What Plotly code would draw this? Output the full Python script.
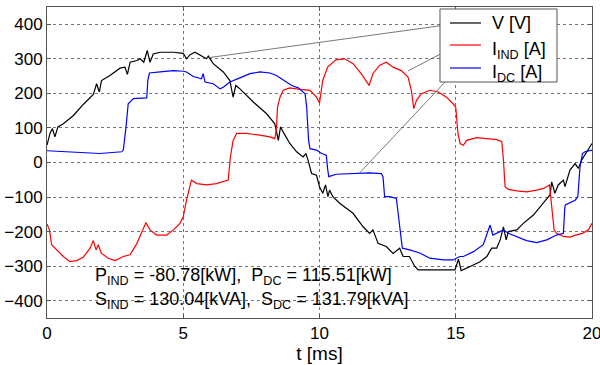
import plotly.graph_objects as go

# ---------------- data ----------------
t_v = [0.0, 0.11, 0.2, 0.29, 0.4, 0.6, 0.97, 1.33, 1.7, 1.82, 1.92, 2.0, 2.31, 2.68, 2.86, 2.95,
       3.05, 3.3, 3.42, 3.55, 3.68, 3.78, 3.9, 4.15, 4.64, 5.0, 5.12, 5.25, 5.43, 5.73, 5.85, 5.92,
       6.1, 6.47, 6.71, 6.83, 6.93, 7.08, 7.57, 8.06, 8.36, 8.49, 8.57, 8.67, 8.91, 9.16, 9.4, 9.5,
       9.58, 9.71, 9.89, 10.0, 10.12, 10.22, 10.31, 10.37, 10.49, 10.74, 11.23, 11.6, 11.84, 11.96,
       12.15, 12.45, 12.7, 12.94, 13.07, 13.3, 13.5, 13.62, 13.93, 14.42, 14.97, 15.1, 15.2, 15.53,
       15.89, 16.14, 16.32, 16.5, 16.63, 16.75, 16.85, 16.93, 17.24, 17.48, 17.85, 18.2, 18.46,
       18.52, 18.64, 18.76, 18.95, 19.01, 19.19, 19.38, 19.5, 19.62, 19.74, 19.87, 20.0]
v_vals = [50, 84, 98, 74, 103, 112, 136, 168, 197, 228, 204, 237, 252, 273, 276, 255,
          290, 295, 300, 290, 324, 290, 314, 319, 319, 316, 300, 312, 319, 305, 300, 308,
          286, 262, 237, 189, 223, 213, 175, 141, 112, 64, 103, 88, 55, 31, 16, 26,
          7, -32, -37, -70, -89, -65, -99, -80, -99, -118, -147, -186, -205, -195,
          -234, -243, -263, -248, -272, -272, -301, -311, -311, -313, -311, -280, -313, -301,
          -287, -272, -248, -248, -224, -186, -224, -200, -195, -176, -152, -118, -94,
          -56, -89, -65, -51, -70, -22, -3, -17, 7, 21, 36, 55]

t_ind = [0.0, 0.09, 0.17, 0.35, 0.6, 0.84, 1.09, 1.33, 1.58, 1.7, 1.8, 1.88, 2.0, 2.25, 2.5, 2.8,
         3.05, 3.3, 3.47, 3.63, 3.78, 4.02, 4.39, 4.64, 4.88, 5.0, 5.12, 5.24, 5.3, 5.5, 5.86, 6.22,
         6.65, 6.73, 6.83, 6.96, 7.32, 7.8, 8.18, 8.36, 8.42, 8.46, 8.55, 8.67, 8.91, 9.16, 9.4,
         9.65, 9.89, 10.0, 10.12, 10.3, 10.6, 10.92, 11.23, 11.53, 11.82, 11.96, 12.2, 12.45, 12.7,
         13.0, 13.25, 13.37, 13.46, 13.56, 13.74, 14.05, 14.36, 14.66, 14.9, 15.0, 15.08, 15.16,
         15.28, 15.4, 15.77, 16.14, 16.5, 16.69, 16.75, 16.81, 16.93, 17.24, 17.6, 17.97, 18.22,
         18.44, 18.52, 18.61, 18.7, 18.95, 19.2, 19.4, 19.65, 19.87, 20.0]
i_ind = [-178, -195, -238, -253, -272, -287, -284, -274, -248, -226, -253, -238, -263, -277, -284, -272,
         -267, -234, -205, -174, -195, -210, -210, -195, -176, -157, -109, -75, -51, -61, -65, -61,
         -51, 16, 64, 84, 84, 79, 74, 69, 98, 160, 189, 209, 216, 213, 210,
         209, 189, 172, 238, 276, 297, 300, 286, 257, 223, 257, 281, 290, 276,
         266, 247, 209, 156, 180, 199, 209, 204, 189, 170, 160, 84, 55,
         50, 64, 72, 69, 66, 60, 7, -70, -78, -82, -85, -80, -75,
         -65, -128, -195, -205, -214, -216, -210, -205, -195, -176]

t_dc = [0.0, 0.97, 1.94, 2.74, 2.8, 2.9, 2.98, 3.17, 3.66, 3.7, 3.76, 4.15, 4.64, 5.0, 5.12, 5.37,
        5.67, 5.73, 5.8, 6.1, 6.35, 6.47, 6.71, 7.08, 7.45, 7.81, 8.18, 8.42, 8.67, 8.98, 9.22, 9.47,
        9.53, 9.6, 9.65, 9.89, 10.08, 10.25, 10.3, 10.34, 10.61, 11.23, 11.84, 12.27, 12.33, 12.39,
        12.58, 12.82, 12.92, 13.04, 13.31, 13.68, 14.05, 14.54, 14.9, 15.15, 15.28, 15.65, 16.01,
        16.16, 16.26, 16.36, 16.5, 16.75, 16.93, 17.24, 17.6, 17.97, 18.34, 18.7, 18.95, 19.0, 19.02,
        19.38, 19.48, 19.56, 19.65, 19.74, 20.0]
i_dc = [34, 31, 26, 31, 36, 103, 170, 185, 187, 238, 259, 262, 266, 264, 262, 249,
        242, 257, 233, 228, 213, 218, 233, 245, 257, 262, 259, 252, 239, 223, 216, 199,
        160, 64, 40, 36, 26, 21, -20, -41, -34, -32, -30, -32, -41, -99,
        -99, -104, -166, -248, -253, -262, -277, -282, -282, -272, -272, -258, -238,
        -205, -181, -210, -205, -195, -205, -214, -226, -232, -224, -210, -205, -133, -123,
        -109, -99, -13, 26, 31, 36]

series_names = ["V [V]", "I<sub>IND</sub> [A]", "I<sub>DC</sub> [A]"]
series_colors = ["#000000", "#ff0000", "#0000ff"]

# leader lines from legend samples to curves (data coordinates)
leader_start_t = [14.83, 15.0, 15.05]
leader_start_y = [400, 337, 270]
leader_end_t = [5.8, 13.25, 11.45]
leader_end_y = [302, 265, -32]

stats_lines = ["P<sub>IND</sub> = -80.78[kW],  P<sub>DC</sub> = 115.51[kW]",
               "S<sub>IND</sub> = 130.04[kVA],  S<sub>DC</sub> = 131.79[kVA]"]

x_ticks = [0, 5, 10, 15, 20]
y_ticks = [-400, -300, -200, -100, 0, 100, 200, 300, 400]

# ---------------- figure ----------------
FONT = "Liberation Sans, Arial, sans-serif"
fig = go.Figure()
for (tx, yv), name, col in zip([(t_v, v_vals), (t_ind, i_ind), (t_dc, i_dc)], series_names, series_colors):
    fig.add_trace(go.Scatter(x=tx, y=yv, mode="lines", name=name, showlegend=False,
                             line=dict(color=col, width=1.2)))

for xs, ys, xe, ye in zip(leader_start_t, leader_start_y, leader_end_t, leader_end_y):
    fig.add_shape(type="line", xref="x", yref="y", x0=xs, y0=ys, x1=xe, y1=ye,
                  line=dict(color="#555555", width=0.8))

# legend box drawn as in the original (MATLAB style)
LG_X0, LG_X1, LG_Y0, LG_Y1 = 0.7211, 0.9358, 0.7588, 0.9936
LG_LINE_X0, LG_LINE_X1, LG_TEXT_X = 0.7394, 0.7963, 0.8128
LG_ROWS = [0.9486, 0.8778, 0.8039]
fig.add_shape(type="rect", xref="paper", yref="paper", x0=LG_X0, x1=LG_X1, y0=LG_Y0, y1=LG_Y1,
              line=dict(color="#555555", width=1), fillcolor="white", layer="above")
for name, col, yr in zip(series_names, series_colors, LG_ROWS):
    fig.add_shape(type="line", xref="paper", yref="paper", x0=LG_LINE_X0, x1=LG_LINE_X1,
                  y0=yr, y1=yr, line=dict(color=col, width=1.2), layer="above")
    off = 0.0 if "<sub>" not in name else -0.018
    fig.add_annotation(text=name, xref="paper", yref="paper", x=LG_TEXT_X, y=yr + off,
                       xanchor="left", yanchor="middle", showarrow=False,
                       font=dict(family=FONT, size=18, color="black"))

for i, txt in enumerate(stats_lines):
    fig.add_annotation(text=txt, xref="paper", yref="paper", x=0.085, y=[0.135, 0.055][i],
                       xanchor="left", yanchor="middle", showarrow=False,
                       font=dict(family=FONT, size=18, color="black"))

axis_common = dict(showline=True, mirror="allticks", linecolor="#555555", linewidth=1,
                   ticks="inside", ticklen=4, tickcolor="#555555", ticklabeloverflow="allow",
                   automargin=False,
                   showgrid=True, gridcolor="#777777", griddash="dot", gridwidth=1,
                   zeroline=False, tickfont=dict(family=FONT, size=17, color="black"))

fig.update_xaxes(range=[0, 20], tickvals=x_ticks, title=dict(text="t [ms]", standoff=2,
                 font=dict(family=FONT, size=19, color="black")), **axis_common)
fig.update_yaxes(range=[-450, 450], tickvals=y_ticks, **axis_common)

fig.update_layout(
    width=600, height=365,
    margin=dict(l=47, r=8, t=7, b=47),
    paper_bgcolor="white", plot_bgcolor="white",
    font=dict(family=FONT, color="black"),
    showlegend=False,
)

fig.write_html("out.html")
